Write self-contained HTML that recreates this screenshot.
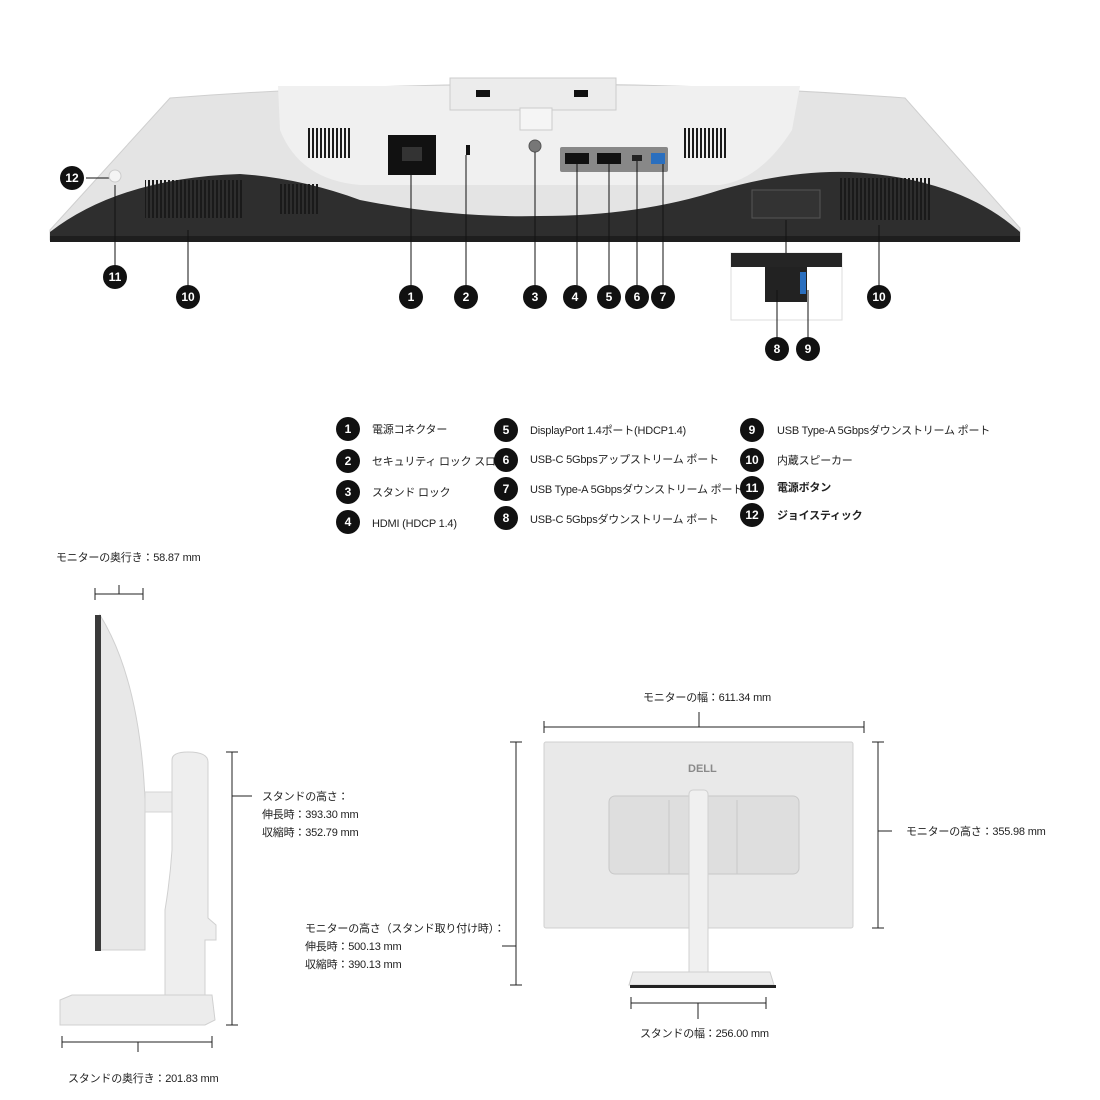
<!DOCTYPE html>
<html><head><meta charset="utf-8"><style>
html,body{margin:0;padding:0;background:#fff;}
svg{display:block;}
text{font-family:"Liberation Sans","Noto Sans CJK JP",sans-serif;fill:#222;}
.n{fill:#fff;font-size:12px;font-weight:bold;text-anchor:middle;}
.l{font-size:11px;letter-spacing:-0.2px;}
</style></head><body>
<svg width="1100" height="1100" viewBox="0 0 1100 1100" xmlns="http://www.w3.org/2000/svg">
<defs>
<pattern id="v" width="4" height="10" patternUnits="userSpaceOnUse"><rect width="2" height="10" fill="#1a1a1a"/></pattern>
</defs>
<!-- TOP MONITOR -->
<path d="M50,240 L50,230 L170,98 Q540,70 905,98 L1020,228 L1020,240 Z" fill="#e4e4e4" stroke="#cfcfcf"/>
<path d="M278,86 L800,86 L792,130 Q760,180 720,185 L360,185 Q300,180 280,130 Z" fill="#f0f0f0"/>
<rect x="450" y="78" width="166" height="32" fill="#ececec" stroke="#ccc"/>
<rect x="476" y="90" width="14" height="7" fill="#111"/><rect x="574" y="90" width="14" height="7" fill="#111"/>
<rect x="520" y="108" width="32" height="22" fill="#f5f5f5" stroke="#ccc"/>
<path d="M50,240 L50,232 Q120,178 240,174 Q300,178 360,200 Q450,218 540,216 Q640,216 720,190 Q790,170 850,172 Q960,178 1020,232 L1020,240 Z" fill="#2e2e2e"/>
<rect x="50" y="236" width="970" height="6" fill="#1e1e1e"/>
<rect x="145" y="180" width="98" height="38" fill="url(#v)"/>
<rect x="278" y="184" width="40" height="30" fill="url(#v)"/>
<rect x="307" y="128" width="44" height="30" fill="url(#v)"/>
<rect x="684" y="128" width="44" height="30" fill="url(#v)"/>
<rect x="840" y="178" width="90" height="42" fill="url(#v)"/>
<rect x="752" y="190" width="68" height="28" fill="#333" stroke="#555"/>
<rect x="388" y="135" width="48" height="40" fill="#111"/>
<rect x="402" y="147" width="20" height="14" fill="#333"/>
<rect x="466" y="145" width="4" height="10" fill="#111"/>
<circle cx="535" cy="146" r="6" fill="#777" stroke="#555"/>
<rect x="560" y="147" width="108" height="25" fill="#888" rx="2"/>
<rect x="565" y="153" width="24" height="11" fill="#111"/>
<rect x="597" y="153" width="24" height="11" fill="#111"/>
<rect x="632" y="155" width="10" height="6" fill="#222"/>
<rect x="651" y="153" width="14" height="11" fill="#2a6fbf"/>
<!-- inset -->
<rect x="731" y="253" width="111" height="67" fill="#fff" stroke="#ddd"/>
<rect x="731" y="253" width="111" height="14" fill="#252525"/>
<rect x="765" y="267" width="42" height="35" fill="#222"/>
<rect x="800" y="272" width="6" height="22" fill="#2a6fbf"/>
<!-- leaders -->
<g stroke="#111" stroke-width="1">
<line x1="86" y1="178" x2="112" y2="178"/><line x1="115" y1="185" x2="115" y2="270"/>
<line x1="188" y1="230" x2="188" y2="290"/><line x1="411" y1="172" x2="411" y2="290"/>
<line x1="466" y1="155" x2="466" y2="290"/><line x1="535" y1="152" x2="535" y2="290"/>
<line x1="577" y1="164" x2="577" y2="290"/><line x1="609" y1="164" x2="609" y2="290"/>
<line x1="637" y1="161" x2="637" y2="290"/><line x1="663" y1="164" x2="663" y2="290"/>
<line x1="786" y1="220" x2="786" y2="253"/><line x1="777" y1="290" x2="777" y2="340"/>
<line x1="808" y1="290" x2="808" y2="340"/><line x1="879" y1="225" x2="879" y2="290"/>
</g>
<circle cx="115" cy="176" r="6" fill="#f4f4f4" stroke="#ccc"/>
<g>
<circle cx="72" cy="178" r="12" fill="#111"/><text class="n" x="72" y="182">12</text>
<circle cx="115" cy="277" r="12" fill="#111"/><text class="n" x="115" y="281">11</text>
<circle cx="188" cy="297" r="12" fill="#111"/><text class="n" x="188" y="301">10</text>
<circle cx="411" cy="297" r="12" fill="#111"/><text class="n" x="411" y="301">1</text>
<circle cx="466" cy="297" r="12" fill="#111"/><text class="n" x="466" y="301">2</text>
<circle cx="535" cy="297" r="12" fill="#111"/><text class="n" x="535" y="301">3</text>
<circle cx="575" cy="297" r="12" fill="#111"/><text class="n" x="575" y="301">4</text>
<circle cx="609" cy="297" r="12" fill="#111"/><text class="n" x="609" y="301">5</text>
<circle cx="637" cy="297" r="12" fill="#111"/><text class="n" x="637" y="301">6</text>
<circle cx="663" cy="297" r="12" fill="#111"/><text class="n" x="663" y="301">7</text>
<circle cx="777" cy="349" r="12" fill="#111"/><text class="n" x="777" y="353">8</text>
<circle cx="808" cy="349" r="12" fill="#111"/><text class="n" x="808" y="353">9</text>
<circle cx="879" cy="297" r="12" fill="#111"/><text class="n" x="879" y="301">10</text>
</g>
<!-- LEGEND -->
<g>
<circle cx="348" cy="429" r="12" fill="#111"/><text class="n" x="348" y="433">1</text><text class="l" x="372" y="433">電源コネクター</text>
<circle cx="348" cy="461" r="12" fill="#111"/><text class="n" x="348" y="465">2</text><text class="l" x="372" y="465">セキュリティ ロック スロット</text>
<circle cx="348" cy="492" r="12" fill="#111"/><text class="n" x="348" y="496">3</text><text class="l" x="372" y="496">スタンド ロック</text>
<circle cx="348" cy="522" r="12" fill="#111"/><text class="n" x="348" y="526">4</text><text class="l" x="372" y="527">HDMI (HDCP 1.4)</text>
<circle cx="506" cy="430" r="12" fill="#111"/><text class="n" x="506" y="434">5</text><text class="l" x="530" y="434">DisplayPort 1.4ポート(HDCP1.4)</text>
<circle cx="506" cy="460" r="12" fill="#111"/><text class="n" x="506" y="464">6</text><text class="l" x="530" y="463">USB-C 5Gbpsアップストリーム ポート</text>
<circle cx="506" cy="489" r="12" fill="#111"/><text class="n" x="506" y="493">7</text><text class="l" x="530" y="493">USB Type-A 5Gbpsダウンストリーム ポート</text>
<circle cx="506" cy="518" r="12" fill="#111"/><text class="n" x="506" y="522">8</text><text class="l" x="530" y="523">USB-C 5Gbpsダウンストリーム ポート</text>
<circle cx="752" cy="430" r="12" fill="#111"/><text class="n" x="752" y="434">9</text><text class="l" x="777" y="434">USB Type-A 5Gbpsダウンストリーム ポート</text>
<circle cx="752" cy="460" r="12" fill="#111"/><text class="n" x="752" y="464">10</text><text class="l" x="777" y="464">内蔵スピーカー</text>
<circle cx="752" cy="488" r="12" fill="#111"/><text class="n" x="752" y="492">11</text><text class="l" x="777" y="491" font-weight="bold">電源ボタン</text>
<circle cx="752" cy="515" r="12" fill="#111"/><text class="n" x="752" y="519">12</text><text class="l" x="777" y="519" font-weight="bold">ジョイスティック</text>
</g>
<!-- SIDE VIEW -->
<text class="l" x="56" y="561">モニターの奥行き：58.87 mm</text>
<g stroke="#222"><line x1="95" y1="594" x2="143" y2="594"/><line x1="95" y1="588" x2="95" y2="600"/><line x1="143" y1="588" x2="143" y2="600"/><line x1="119" y1="585" x2="119" y2="594"/></g>
<path d="M100,615 Q140,680 145,800 L145,950 L100,950 Z" fill="#e8e8e8" stroke="#d0d0d0"/>
<rect x="95" y="615" width="6" height="336" fill="#3a3a3a"/>
<rect x="145" y="792" width="30" height="20" fill="#ececec" stroke="#d5d5d5"/>
<path d="M172,760 Q172,752 188,752 Q208,752 208,762 L208,918 L216,925 L216,940 L205,940 L205,1002 L165,1002 L165,910 Q170,880 172,850 Z" fill="#eeeeee" stroke="#d0d0d0"/>
<path d="M60,1000 L72,995 L212,995 L215,1020 L205,1025 L60,1025 Z" fill="#ececec" stroke="#d0d0d0"/>
<g stroke="#222"><line x1="232" y1="752" x2="232" y2="1025"/><line x1="226" y1="752" x2="238" y2="752"/><line x1="226" y1="1025" x2="238" y2="1025"/><line x1="232" y1="796" x2="252" y2="796"/></g>
<text class="l" x="262" y="800">スタンドの高さ：</text>
<text class="l" x="262" y="818">伸長時：393.30 mm</text>
<text class="l" x="262" y="836">収縮時：352.79 mm</text>
<g stroke="#222"><line x1="62" y1="1042" x2="212" y2="1042"/><line x1="62" y1="1036" x2="62" y2="1048"/><line x1="212" y1="1036" x2="212" y2="1048"/><line x1="138" y1="1042" x2="138" y2="1052"/></g>
<text class="l" x="68" y="1082">スタンドの奥行き：201.83 mm</text>
<!-- BACK VIEW -->
<text class="l" x="643" y="701">モニターの幅：611.34 mm</text>
<g stroke="#222"><line x1="544" y1="727" x2="864" y2="727"/><line x1="544" y1="721" x2="544" y2="733"/><line x1="864" y1="721" x2="864" y2="733"/><line x1="699" y1="712" x2="699" y2="727"/></g>
<rect x="544" y="742" width="309" height="186" rx="2" fill="#e9e9e9" stroke="#d0d0d0"/>
<text x="688" y="772" font-size="11" font-weight="bold" style="fill:#8a8a8a">DELL</text>
<rect x="609" y="796" width="190" height="78" rx="6" fill="#dedede" stroke="#c8c8c8"/>
<line x1="669" y1="800" x2="669" y2="874" stroke="#c8c8c8"/><line x1="737" y1="800" x2="737" y2="874" stroke="#c8c8c8"/>
<rect x="689" y="790" width="19" height="195" rx="4" fill="#f0f0f0" stroke="#d0d0d0"/>
<path d="M633,972 L770,972 L774,985 L629,985 Z" fill="#ececec" stroke="#cfcfcf"/>
<rect x="630" y="985" width="146" height="3" fill="#222"/>
<g stroke="#222"><line x1="878" y1="742" x2="878" y2="928"/><line x1="872" y1="742" x2="884" y2="742"/><line x1="872" y1="928" x2="884" y2="928"/><line x1="878" y1="831" x2="892" y2="831"/></g>
<text class="l" x="906" y="835">モニターの高さ：355.98 mm</text>
<g stroke="#222"><line x1="516" y1="742" x2="516" y2="985"/><line x1="510" y1="742" x2="522" y2="742"/><line x1="510" y1="985" x2="522" y2="985"/><line x1="502" y1="946" x2="516" y2="946"/></g>
<text class="l" x="305" y="932">モニターの高さ（スタンド取り付け時）：</text>
<text class="l" x="305" y="950">伸長時：500.13 mm</text>
<text class="l" x="305" y="968">収縮時：390.13 mm</text>
<g stroke="#222"><line x1="631" y1="1003" x2="766" y2="1003"/><line x1="631" y1="997" x2="631" y2="1009"/><line x1="766" y1="997" x2="766" y2="1009"/><line x1="698" y1="1003" x2="698" y2="1019"/></g>
<text class="l" x="640" y="1037">スタンドの幅：256.00 mm</text>
</svg>
</body></html>
